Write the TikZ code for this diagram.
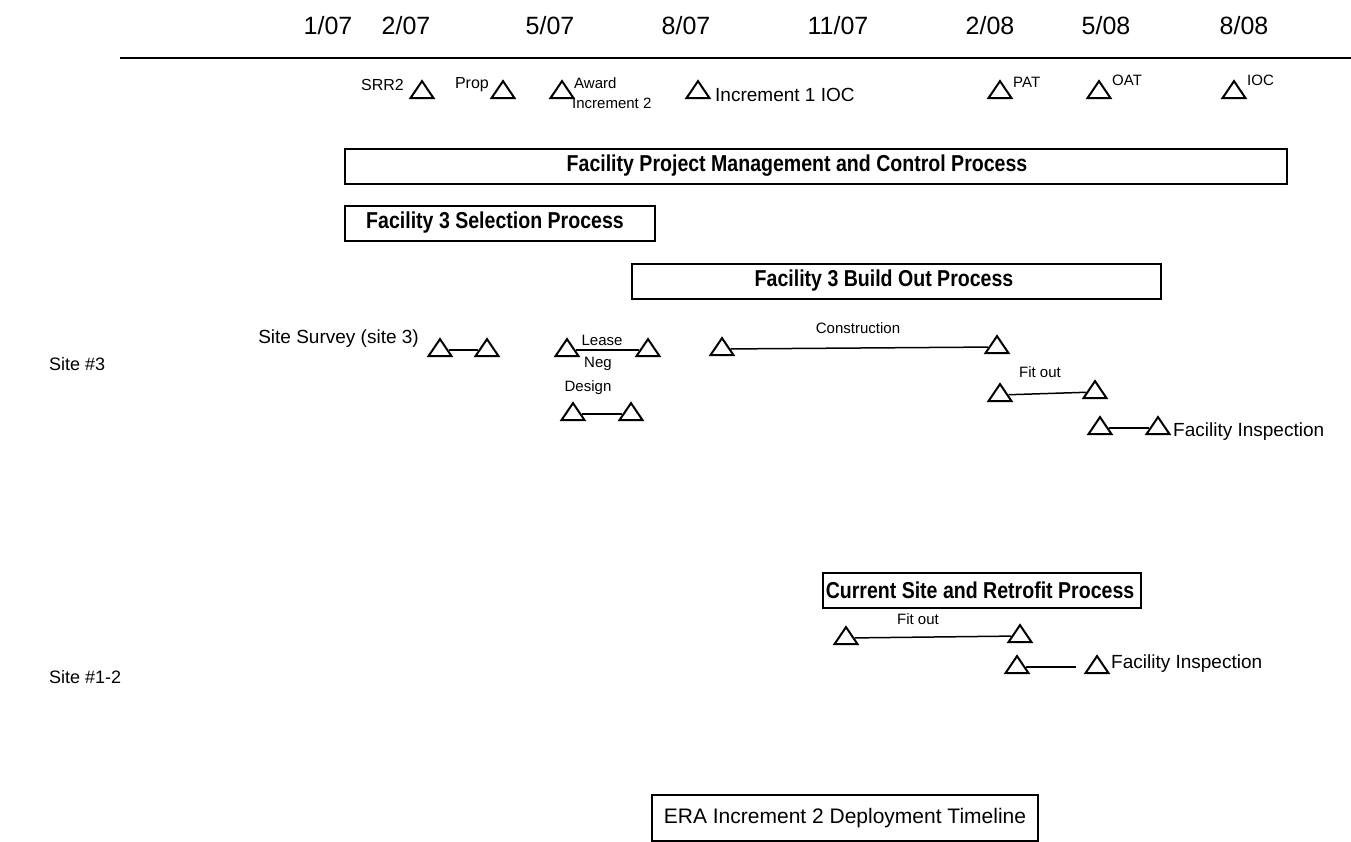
\documentclass[tikz,border=0pt]{standalone}
\usepackage{fontspec}
\setmainfont{Liberation Sans}
\newfontfamily\narrowfont[FakeStretch=0.85]{Liberation Sans}
\usetikzlibrary{shapes.geometric,positioning}
\tikzset{
  ms/.style={isosceles triangle, isosceles triangle stretches, shape border rotate=90,
             draw, line width=2pt, minimum width=23pt, minimum height=17pt, inner sep=0pt},
  pb/.style={draw, line width=1.6pt, minimum height=35pt, inner sep=0pt, anchor=north west},
  sm/.style={font=\fontsize{15}{17}\selectfont, inner sep=1pt},
  md/.style={font=\fontsize{19}{21}\selectfont, inner sep=1pt},
  bl/.style={font=\narrowfont\bfseries\fontsize{23}{25}\selectfont, inner sep=1pt},
  dt/.style={font=\fontsize{25}{28}\selectfont},
  cl/.style={line width=1.5pt}
}
\begin{document}
\begin{tikzpicture}[x=1pt, y=-1pt]
  \useasboundingbox (0,0) rectangle (1351,841);
  % month scale
  \foreach \x/\m/\yr [count=\i] in {328/1/07, 406/2/07, 550/5/07, 686/8/07, 838/11/07, 990/2/08, 1106/5/08, 1244/8/08}
    \node[dt] (d\i) at (\x,26) {\m/\yr};
  \coordinate (hl) at (120,58);
  \coordinate (hr) at (1351,58);
  \draw[cl] (hl) -- (hr);

  % milestones
  \node[ms] (srr2) at (422,92) {};
  \node[sm, font=\fontsize{16}{18}\selectfont, anchor=east] (srr2l) at (405,85) {SRR2};
  \node[ms] (prop) at (503,92) {};
  \node[sm, font=\fontsize{16}{18}\selectfont, anchor=east] (propl) at (490,85) {Prop};
  \node[ms] (award) at (562,92) {};
  \node[sm, anchor=west] (awardl) at (573,83) {Award};
  \node[sm, anchor=west] (inc2l) at (571,103) {Increment 2};
  \node[ms] (inc1) at (698,92) {};
  \node[md, anchor=west] (inc1l) at (714,95) {Increment 1 IOC};
  \node[ms] (pat) at (1000,92) {};
  \node[sm, anchor=west] (patl) at (1012,82) {PAT};
  \node[ms] (oat) at (1099,92) {};
  \node[sm, anchor=west] (oatl) at (1111,80) {OAT};
  \node[ms] (ioc) at (1234,92) {};
  \node[sm, anchor=west] (iocl) at (1246,80) {IOC};

  % process bars
  \node[pb, minimum width=942pt] (pmc) at (344,148) {};
  \node[bl] (pmct) at (797,166) {Facility Project Management and Control Process};
  \node[pb, minimum width=310pt] (sel) at (344,205) {};
  \node[bl] (selt) at (495,223) {Facility 3 Selection Process};
  \node[pb, minimum width=529pt] (bld) at (631,263) {};
  \node[bl] (bldt) at (884,281) {Facility 3 Build Out Process};

  % site 3
  \node[md, font=\fontsize{18}{20}\selectfont, anchor=west] (site3) at (48,364) {Site \#3};
  \node[md, anchor=east] (ssl) at (420,339) {Site Survey (site 3)};
  \node[ms] (ss1) at (440,350) {};
  \node[ms] (ss2) at (487,350) {};
  \draw[cl] (ss1) -- (ss2);
  \node[ms] (ln1) at (567,350) {};
  \node[ms] (ln2) at (648,350) {};
  \draw[cl] (ln1) -- (ln2);
  \node[sm] (lnl1) at (602,340) {Lease};
  \node[sm] (lnl2) at (598,364) {Neg};
  \node[ms] (cn1) at (722,349) {};
  \node[ms] (cn2) at (997,347) {};
  \draw[cl] (cn1) -- (cn2);
  \node[sm] (cnl) at (858,328) {Construction};
  \node[sm] (dsl) at (588,388) {Design};
  \node[ms] (ds1) at (573,414) {};
  \node[ms] (ds2) at (631,414) {};
  \draw[cl] (ds1) -- (ds2);
  \node[sm] (fo3l) at (1040,372) {Fit out};
  \node[ms] (fo1) at (1000,395) {};
  \node[ms] (fo2) at (1095,392) {};
  \draw[cl] (fo1) -- (fo2);
  \node[ms] (fi1) at (1100,428) {};
  \node[ms] (fi2) at (1158,428) {};
  \draw[cl] (fi1) -- (fi2);
  \node[md, anchor=west] (fil) at (1172,432) {Facility Inspection};

  % sites 1-2
  \node[md, font=\fontsize{18}{20}\selectfont, anchor=west] (site12) at (48,677) {Site \#1-2};
  \node[pb, minimum width=318pt] (cur) at (822,572) {};
  \node[bl] (curt) at (980,590) {Current Site and Retrofit Process};
  \node[sm] (fo12l) at (918,619) {Fit out};
  \node[ms] (cf1) at (846,638) {};
  \node[ms] (cf2) at (1020,636) {};
  \draw[cl] (cf1) -- (cf2);
  \node[ms] (ci1) at (1017,667) {};
  \node[ms] (ci2) at (1097,667) {};
  \coordinate (cigap) at (1076,667);
  \draw[cl] (ci1) -- (cigap);
  \node[md, anchor=west] (ci2l) at (1110,664) {Facility Inspection};

  % title
  \node[draw, line width=1.4pt, minimum width=386pt, minimum height=46pt,
        font=\fontsize{21}{24}\selectfont] (ttl) at (845,818) {ERA Increment 2 Deployment Timeline};
\end{tikzpicture}
\end{document}
